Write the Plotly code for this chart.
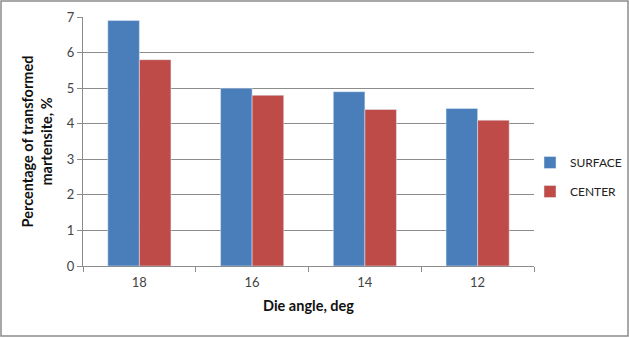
import plotly.graph_objects as go

categories = ["18", "16", "14", "12"]
surface = [6.9, 5.0, 4.9, 4.43]
center = [5.8, 4.8, 4.4, 4.1]
y_ticks = [0, 1, 2, 3, 4, 5, 6, 7]

W, H = 629, 338
ml, mr, mt, mb = 83, 95, 17, 72
pw, ph = W - ml - mr, H - mt - mb

fig = go.Figure()
fig.add_trace(go.Bar(name="SURFACE", x=categories, y=surface, marker_color="#4a7ebb",
                     legendgroup="s"))
fig.add_trace(go.Bar(name="CENTER", x=categories, y=center, marker_color="#be4b48",
                     legendgroup="c"))

font = "Lato, 'Open Sans', sans-serif"
fig.update_layout(
    width=W, height=H,
    margin=dict(l=ml, r=mr, t=mt, b=mb, autoexpand=False),
    paper_bgcolor="white", plot_bgcolor="white",
    barmode="group", bargap=0.44, bargroupgap=0,
    font=dict(family=font, size=12, color="#333"),
    legend=dict(x=(530 - ml) / pw, y=(266 - 148) / ph, xanchor="left", yanchor="top",
                font=dict(size=12, color="#222"), tracegroupgap=10, itemwidth=30,
                bgcolor="rgba(0,0,0,0)"),
    xaxis=dict(
        type="category", showline=True, linecolor="#8c8c8c", linewidth=1,
        ticks="outside", ticklen=5, tickcolor="#8c8c8c", tickson="boundaries",
        tickfont=dict(size=13, color="#444"), automargin=False, ticklabelstandoff=4,
        title=dict(text="<b>Die angle, deg</b>", font=dict(size=14.5, color="#111"), standoff=12),
    ),
    yaxis=dict(
        range=[0, 7], tickvals=y_ticks, showgrid=True, gridcolor="#8c8c8c", gridwidth=1,
        showline=True, linecolor="#8c8c8c", linewidth=1,
        ticks="outside", ticklen=5, tickcolor="#8c8c8c", automargin=False,
        tickfont=dict(size=13, color="#444"), zeroline=False,
        title=dict(text="<b>Percentage of transformed<br>martensite, %</b>",
                   font=dict(size=14.5, color="#111"), standoff=10),
    ),
    shapes=[dict(type="rect", xref="paper", yref="paper",
                 x0=(1 - ml) / pw, x1=(W - 1 - ml) / pw,
                 y0=-(H - 2 - mt - ph) / ph, y1=(ph + mt - 1) / ph,
                 line=dict(color="#8c8c8c", width=1.5), layer="below")],
)

fig.write_html("out.html", config={"displayModeBar": False},
               post_script="document.body.style.margin='0';document.body.style.overflow='hidden';")
